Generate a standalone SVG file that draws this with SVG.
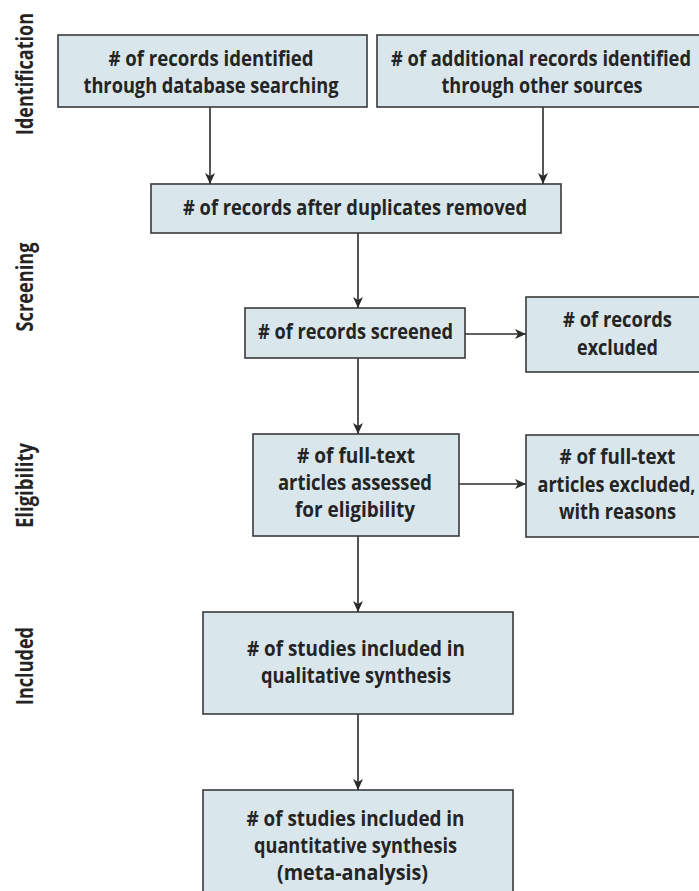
<svg xmlns="http://www.w3.org/2000/svg" width="699" height="891" viewBox="0 0 699 891">
<defs>
<marker id="ah" markerUnits="userSpaceOnUse" markerWidth="12" markerHeight="10" refX="11" refY="5" orient="auto">
<path d="M0,0 L11,5 L0,10 L3,5 z" fill="#2b2b2b"/>
</marker>
<style>
.box{fill:#d9e6ec;stroke:#3a3a3a;stroke-width:1.6}
.t{font-family:"Open Sans","DejaVu Sans",sans-serif;font-weight:bold;font-size:20.5px;fill:#242424;text-anchor:middle}
.lab{font-family:"Open Sans","DejaVu Sans",sans-serif;font-weight:bold;font-size:23px;fill:#242424;text-anchor:middle}
.c{stroke:#2b2b2b;stroke-width:1.6;fill:none;marker-end:url(#ah)}
</style>
</defs>
<rect width="699" height="891" fill="#ffffff"/>
<g id="labels">
<text class="lab" transform="translate(33,74) rotate(-90)" textLength="122" lengthAdjust="spacingAndGlyphs">Identification</text>
<text class="lab" transform="translate(33,287) rotate(-90)" textLength="89" lengthAdjust="spacingAndGlyphs">Screening</text>
<text class="lab" transform="translate(33,485.5) rotate(-90)" textLength="85" lengthAdjust="spacingAndGlyphs">Eligibility</text>
<text class="lab" transform="translate(33,666) rotate(-90)" textLength="78" lengthAdjust="spacingAndGlyphs">Included</text>
</g>
<g id="connectors">
<line class="c" x1="210" y1="107" x2="210" y2="184"/>
<line class="c" x1="543" y1="107" x2="543" y2="184"/>
<line class="c" x1="358" y1="233" x2="358" y2="308"/>
<line class="c" x1="465" y1="334" x2="526" y2="334"/>
<line class="c" x1="358" y1="358" x2="358" y2="434"/>
<line class="c" x1="459" y1="484" x2="526" y2="484"/>
<line class="c" x1="358" y1="536" x2="358" y2="612"/>
<line class="c" x1="358" y1="714" x2="358" y2="790"/>
</g>
<g id="n1">
<rect class="box" x="58" y="35" width="309" height="72"/>
<text class="t" x="211" y="66" textLength="205" lengthAdjust="spacingAndGlyphs"># of records identified</text>
<text class="t" x="211" y="93" textLength="255" lengthAdjust="spacingAndGlyphs">through database searching</text>
</g>
<g id="n2">
<rect class="box" x="377" y="35" width="330" height="72"/>
<text class="t" x="541" y="66" textLength="300" lengthAdjust="spacingAndGlyphs"># of additional records identified</text>
<text class="t" x="542" y="93" textLength="201" lengthAdjust="spacingAndGlyphs">through other sources</text>
</g>
<g id="n3">
<rect class="box" x="151" y="184" width="410" height="49"/>
<text class="t" x="355" y="215" textLength="344" lengthAdjust="spacingAndGlyphs"># of records after duplicates removed</text>
</g>
<g id="n4">
<rect class="box" x="245" y="308" width="220" height="50"/>
<text class="t" x="355.5" y="339" textLength="195" lengthAdjust="spacingAndGlyphs"># of records screened</text>
</g>
<g id="n5">
<rect class="box" x="526" y="297" width="183" height="75"/>
<text class="t" x="617.5" y="327" textLength="109" lengthAdjust="spacingAndGlyphs"># of records</text>
<text class="t" x="617.5" y="355" textLength="81" lengthAdjust="spacingAndGlyphs">excluded</text>
</g>
<g id="n6">
<rect class="box" x="253" y="434" width="206" height="102"/>
<text class="t" x="356" y="463" textLength="118" lengthAdjust="spacingAndGlyphs"># of full-text</text>
<text class="t" x="355" y="490" textLength="154" lengthAdjust="spacingAndGlyphs">articles assessed</text>
<text class="t" x="355" y="517" textLength="120" lengthAdjust="spacingAndGlyphs">for eligibility</text>
</g>
<g id="n7">
<rect class="box" x="526" y="435" width="183" height="102"/>
<text class="t" x="617.5" y="464" textLength="116" lengthAdjust="spacingAndGlyphs"># of full-text</text>
<text class="t" x="616.5" y="492" textLength="158" lengthAdjust="spacingAndGlyphs">articles excluded,</text>
<text class="t" x="617.5" y="519" textLength="117" lengthAdjust="spacingAndGlyphs">with reasons</text>
</g>
<g id="n8">
<rect class="box" x="203" y="612" width="310" height="102"/>
<text class="t" x="356" y="656" textLength="218" lengthAdjust="spacingAndGlyphs"># of studies included in</text>
<text class="t" x="356" y="683" textLength="190" lengthAdjust="spacingAndGlyphs">qualitative synthesis</text>
</g>
<g id="n9">
<rect class="box" x="203" y="790" width="310" height="110"/>
<text class="t" x="355.5" y="826" textLength="218" lengthAdjust="spacingAndGlyphs"># of studies included in</text>
<text class="t" x="355.5" y="853" textLength="203" lengthAdjust="spacingAndGlyphs">quantitative synthesis</text>
<text class="t" x="352.5" y="880" textLength="151" lengthAdjust="spacingAndGlyphs">(meta-analysis)</text>
</g>
</svg>
